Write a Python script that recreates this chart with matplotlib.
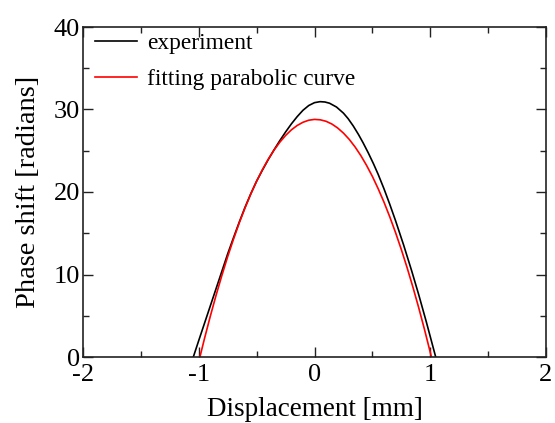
import matplotlib
matplotlib.use("Agg")
import matplotlib.pyplot as plt
from matplotlib.ticker import MultipleLocator

plt.rcParams['font.family'] = ['Liberation Serif', 'DejaVu Serif']
plt.rcParams['axes.unicode_minus'] = False

# experiment data
exp_x = [-1.047, -1.00, -0.95, -0.90, -0.85, -0.80, -0.75, -0.70, -0.65, -0.60,
         -0.55, -0.50, -0.45, -0.40, -0.35, -0.30, -0.25, -0.20, -0.15, -0.10,
         -0.05, 0.00, 0.048, 0.09, 0.13, 0.19, 0.25, 0.29, 0.335, 0.38,
         0.42, 0.465, 0.51, 0.55, 0.60, 0.65, 0.70, 0.77, 0.84, 0.90,
         0.965, 1.047]
exp_y = [0.0, 2.0, 4.1, 6.2, 8.3, 10.4, 12.5, 14.45, 16.35, 18.15,
         19.8, 21.32, 22.65, 23.92, 25.1, 26.22, 27.27, 28.25, 29.13, 29.9,
         30.48, 30.83, 30.95, 30.91, 30.76, 30.30, 29.56, 28.90, 28.00, 26.97,
         25.96, 24.73, 23.41, 22.14, 20.40, 18.52, 16.53, 13.57, 10.42, 7.57,
         4.31, 0.0]

# fitting parabolic curve
fit_x = [-0.99, -0.95, -0.90, -0.85, -0.80, -0.75, -0.70, -0.65, -0.60, -0.55,
         -0.50, -0.45, -0.40, -0.35, -0.30, -0.25, -0.20, -0.15, -0.10, -0.05,
         0.00, 0.05, 0.10, 0.15, 0.20, 0.25, 0.30, 0.35, 0.40, 0.45,
         0.50, 0.55, 0.60, 0.65, 0.70, 0.75, 0.80, 0.85, 0.90, 0.95,
         1.00, 1.01]
fit_y = [0.0, 2.26, 4.95, 7.50, 9.90, 12.17, 14.28, 16.26, 18.08, 19.77,
         21.31, 22.71, 23.96, 25.07, 26.03, 26.85, 27.53, 28.06, 28.45, 28.70,
         28.80, 28.75, 28.57, 28.24, 27.76, 27.14, 26.38, 25.47, 24.42, 23.22,
         21.89, 20.40, 18.78, 17.00, 15.09, 13.03, 10.83, 8.48, 5.99, 3.35,
         0.57, 0.0]

x_ticks = [-2, -1, 0, 1, 2]
y_ticks = [0, 10, 20, 30, 40]

fig = plt.figure(figsize=(5.55, 4.23), dpi=100)
ax = fig.add_axes([83/555, 66/423, 463/555, 330/423])

ax.plot(exp_x, exp_y, color='black', lw=1.2, label='experiment')
ax.plot(fit_x, fit_y, color='#ff0000', lw=1.2, label='fitting parabolic curve')

ax.set_xlim(-2, 2)
ax.set_ylim(0, 40)
ax.set_xticks(x_ticks)
ax.set_yticks(y_ticks)
ax.set_xticklabels([str(v) for v in x_ticks])
ax.set_yticklabels([str(v) for v in y_ticks])
ax.xaxis.set_minor_locator(MultipleLocator(0.5))
ax.yaxis.set_minor_locator(MultipleLocator(5))

for s in ax.spines.values():
    s.set_linewidth(1.2)
    s.set_color('#222222')

ax.tick_params(which='both', direction='in', top=True, right=True, width=1.0, color='#222222')
ax.tick_params(which='major', length=7.2, labelsize=19)
ax.tick_params(axis='x', which='major', pad=5)
ax.tick_params(axis='y', which='major', pad=2)
ax.tick_params(which='minor', length=4)

ax.set_xlabel('Displacement [mm]', fontsize=19.5, labelpad=8)
ax.set_ylabel('Phase shift [radians]', fontsize=20.5, labelpad=9)

ax.legend(loc='upper left', bbox_to_anchor=(0.011, 1.003), frameon=False, fontsize=16.8,
          handlelength=1.8, handletextpad=0.43, labelspacing=0.6,
          borderpad=0.0, borderaxespad=0.3)

fig.savefig('out.png', dpi=100)
